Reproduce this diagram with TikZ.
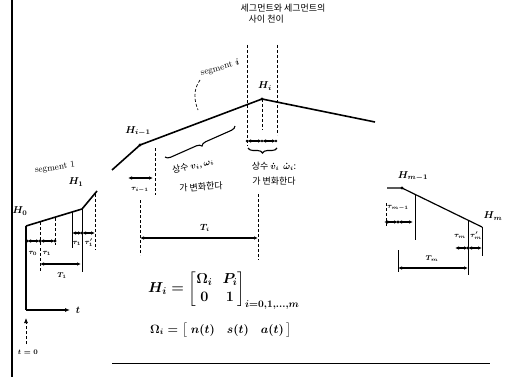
\documentclass[tikz,border=0pt]{standalone}
\usepackage{amsmath}
\usepackage{fontspec}
\newfontfamily\kr{Noto Sans CJK KR}
\usetikzlibrary{arrows.meta,decorations.pathreplacing}
\begin{document}
\begin{tikzpicture}[x=1pt,y=-1pt,
  traj/.style={line width=1.6pt,line join=round},
  guide/.style={densely dashed,line width=0.7pt},
  solidguide/.style={line width=0.8pt},
  dimline/.style={line width=1.2pt,{Latex[length=4pt,width=3.5pt]}-{Latex[length=4pt,width=3.5pt]}},
  pt/.style={circle,fill,inner sep=1.2pt},
  lbl/.style={font=\small\boldmath,inner sep=1pt},
  hl/.style={font=\normalsize\boldmath,inner sep=1pt},
  tl/.style={font=\scriptsize\boldmath,inner sep=0.5pt},
  krl/.style={font=\kr\fontsize{9}{11}\selectfont\boldmath,inner sep=0.5pt},
  brc/.style={decorate,decoration={brace,mirror,amplitude=5pt},line width=1.1pt}]
\useasboundingbox (0,0) rectangle (508,377);
% frame lines
\draw[line width=1.1pt] (12,0) -- (12,377);
\draw[line width=0.6pt] (112,363) -- (490,363);

% ---------- segment 1 ----------
\coordinate (H0) at (26,226);
\coordinate (A1) at (82,209);
\coordinate (B1) at (97,191);
\draw[traj] (H0) -- (A1) -- (B1);
\node[lbl,rotate=8] (seg1) at (55,168) {segment 1};
\node[hl] (H0l) at (20,211) {$H_0$};
\node[hl] (H1l) at (76,182) {$H_1$};
\draw[guide] (40,222) -- (40,245);
\draw[guide] (55,218) -- (55,245);
\draw[solidguide] (72,212) -- (72,248);
\draw[solidguide] (A1) -- (82,252);
\draw[guide] (95,194) -- (95,250);
% left tau arrows
\coordinate (ta0) at (27,241); \coordinate (ta1) at (40,241); \coordinate (ta2) at (55,241);
\draw[dimline] (ta0) -- (ta1);
\draw[dimline] (ta1) -- (ta2);
\foreach \p in {ta0,ta1,ta2} \node[pt] at (\p) {};
\node[tl] (tau0) at (33,253) {$\tau_0$};
\node[tl] (tau1) at (47,253) {$\tau_1$};
\draw[guide] (40,248) -- (40,272);
% right tau arrows
\coordinate (tb0) at (72,233); \coordinate (tb1) at (82,233); \coordinate (tb2) at (95,233);
\draw[dimline] (tb0) -- (tb1);
\draw[dimline] (tb1) -- (tb2);
\node[pt] at (tb1) {};
\node[tl] (tau1a) at (77,243) {$\tau_1$};
\node[tl] (tau1b) at (89,243) {$\tau_1'$};
\draw[solidguide] (82,252) -- (82,272);
% T1
\coordinate (T1a) at (40,264); \coordinate (T1b) at (81,264);
\draw[dimline] (T1a) -- (T1b);
\node[tl] (T1l) at (62,276) {$T_1$};
% time axis
\coordinate (O) at (26,310);
\coordinate (tax) at (70,310);
\draw[line width=1.1pt] (H0) -- (O);
\draw[line width=1.1pt,-{Latex[length=5pt,width=4pt]}] (O) -- (tax);
\node[hl] (tlab) at (78,310) {$t$};
\coordinate (t0a) at (26,344); \coordinate (t0b) at (26,318);
\draw[guide,-{Latex[length=5pt,width=4pt]}] (t0a) -- (t0b);
\node[tl] (t0l) at (28,352) {$t=0$};

% ---------- segment i ----------
\coordinate (S) at (112,170);
\coordinate (Him1) at (140,145);
\coordinate (Hi) at (262,99);
\coordinate (E) at (375,122);
\draw[traj] (S) -- (Him1) -- (Hi) -- (E);
\node[pt] at (Him1) {};
\node[pt] at (Hi) {};
\node[hl] (Him1l) at (138,131) {$H_{i-1}$};
\node[hl] (Hil) at (265,86) {$H_i$};
\node[lbl,rotate=15] (segi) at (220,68) {segment $i$};
\draw[guide] (200,80) .. controls (193,90) and (194,100) .. (198,110);
% guides around H_i
\draw[guide] (247,45) -- (247,146);
\draw[guide] (277,45) -- (277,135);
\draw[guide] (Hi) -- (262,130);
\coordinate (tc0) at (247,141); \coordinate (tc1) at (262,141); \coordinate (tc2) at (276,141);
\draw[dimline] (tc0) -- (tc1);
\draw[dimline] (tc1) -- (tc2);
\foreach \p in {tc0,tc1,tc2} \node[pt,inner sep=1pt] at (\p) {};
% braces
\draw[brc] (165,157) -- (235,126);
\draw[brc] (248,148) -- (277,148);
\node[krl,rotate=14] (c1) at (193,166) {상수 $v_i$,\ $\omega_i$};
\node[krl,rotate=4] (c2) at (201,187) {가 변화한다};
\node[krl] (c3) at (274,166) {상수 $\dot v_i$\ \ $\dot\omega_i$:};
\node[krl] (c4) at (274,181) {가 변화한다};
% top text
\node[krl,align=left,anchor=north west] (top) at (240,3) {세그먼트와 세그먼트의\\\hspace*{8pt}사이 천이};
% tau_{i-1}
\draw[guide] (155,148) -- (155,195);
\coordinate (td0) at (128,178); \coordinate (td1) at (153,178);
\draw[dimline] (td0) -- (td1);
\node[tl] (taui) at (140,190) {$\tau_{i-1}$};
% T_i
\draw[guide] (140,200) -- (140,255);
\draw[guide] (258,194) -- (258,260);
\coordinate (Tia) at (140,238); \coordinate (Tib) at (258,238);
\draw[dimline] (Tia) -- (Tib);
\node[lbl] (Til) at (205,228) {$T_i$};

% ---------- last segment ----------
\coordinate (R0) at (387,188);
\coordinate (Hmm1) at (402,188);
\coordinate (Hm) at (482,227);
\draw[traj,line width=1.2pt] (R0) -- (Hmm1) -- (Hm);
\node[pt] at (Hmm1) {};
\node[hl] (Hmm1l) at (413,176) {$H_{m-1}$};
\node[hl] (Hml) at (493,216) {$H_m$};
\draw[solidguide] (415,195) -- (415,240);
\draw[guide] (386,203) -- (386,226);
\draw[solidguide] (468,220) -- (468,275);
\draw[solidguide] (Hm) -- (482,256);
\coordinate (te0) at (384,222); \coordinate (te1) at (398,222); \coordinate (te2) at (413,222);
\draw[dimline] (te0) -- (te1);
\draw[dimline] (te1) -- (te2);
\node[pt] at (te1) {};
\node[tl] (taum1) at (398,208) {$\tau_{m-1}$};
\coordinate (tf0) at (455,248); \coordinate (tf1) at (468,248); \coordinate (tf2) at (482,248);
\draw[dimline] (tf0) -- (tf1);
\draw[dimline] (tf1) -- (tf2);
\node[pt] at (tf1) {};
\node[tl] (taum) at (460,236) {$\tau_m$};
\node[tl] (taum2) at (476,236) {$\tau_m'$};
\draw[solidguide] (398,250) -- (398,272);
\coordinate (Tma) at (398,268); \coordinate (Tmb) at (468,268);
\draw[dimline] (Tma) -- (Tmb);
\node[tl] (Tml) at (432,259) {$T_m$};

% ---------- formulas ----------
\node[inner sep=0pt,anchor=west,font=\Large\boldmath] (mat) at (148,290)
  {$H_i = \begin{bmatrix}\Omega_i & P_i\\ 0 & 1\end{bmatrix}_{\scriptstyle i=0,1,\ldots,m}$};
\node[inner sep=0pt,anchor=west,font=\large\boldmath] (om) at (150,330)
  {$\Omega_i = \bigl[\;n(t)\quad s(t)\quad a(t)\,\bigr]$};
\end{tikzpicture}
\end{document}
